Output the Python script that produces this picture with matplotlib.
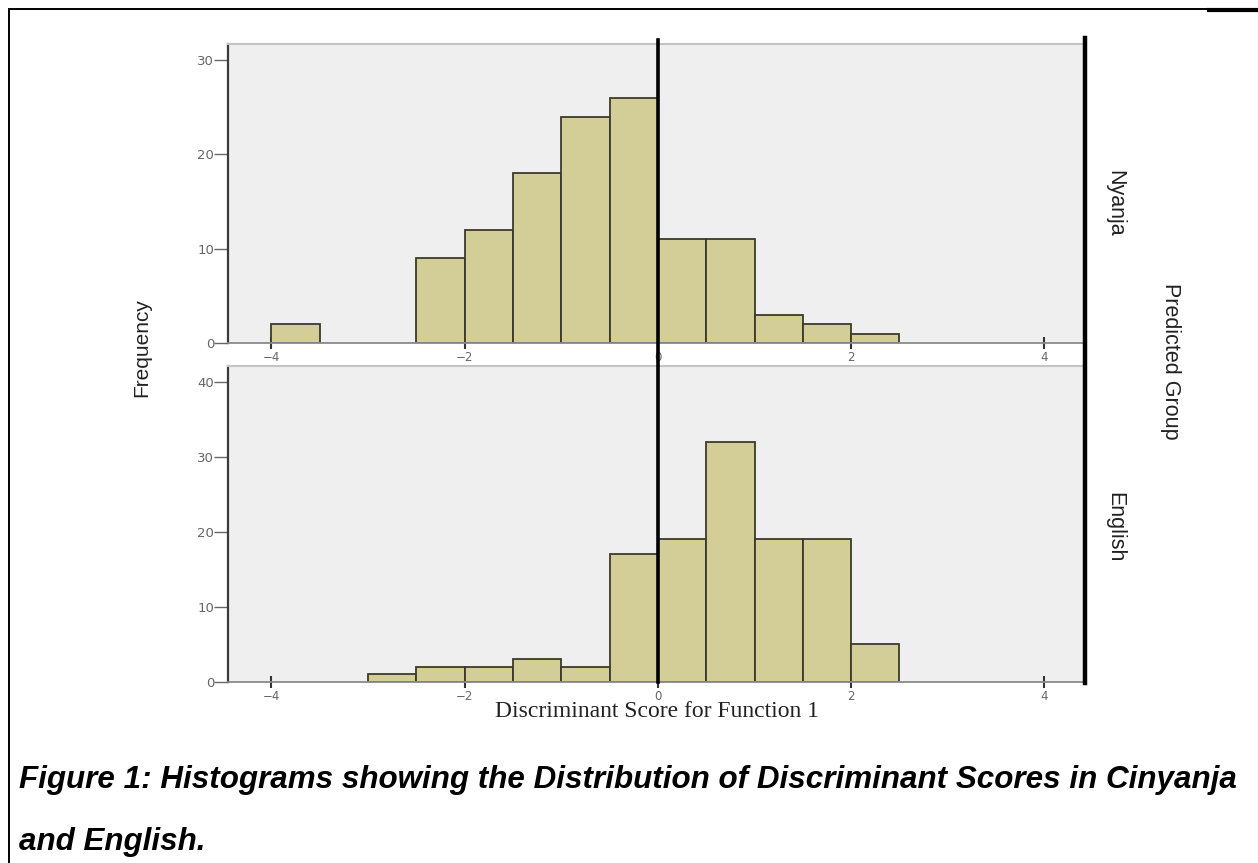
import matplotlib
matplotlib.use("Agg")
import matplotlib.pyplot as plt
from matplotlib.lines import Line2D

# histogram bins (left edges, width 0.5) and counts
nyanja_bins = [-4.0, -2.5, -2.0, -1.5, -1.0, -0.5, 0.0, 0.5, 1.0, 1.5, 2.0]
nyanja_counts = [2, 9, 12, 18, 24, 26, 11, 11, 3, 2, 1]

english_bins = [-3.0, -2.5, -2.0, -1.5, -1.0, -0.5, 0.0, 0.5, 1.0, 1.5, 2.0]
english_counts = [1, 2, 2, 3, 2, 17, 19, 32, 19, 19, 5]

bin_width = 0.5
x_ticks = [-4, -2, 0, 2, 4]
nyanja_yticks = [0, 10, 20, 30]
english_yticks = [0, 10, 20, 30, 40]

bar_color = "#d3ce97"
edge_color = "#3b3a2c"
panel_bg = "#efefef"

W, H = 1258, 863
fig = plt.figure(figsize=(W / 100, H / 100), dpi=100)
fig.patch.set_facecolor("white")


def fx(px):
    return px / W


def fy(py):
    return 1 - py / H


left, right = 228, 1085
ax1 = fig.add_axes([fx(left), fy(343), fx(right - left), fy(44) - fy(343)])
ax2 = fig.add_axes([fx(left), fy(682), fx(right - left), fy(366) - fy(682)])


def style(ax, bins, counts, yticks, ytop):
    ax.set_facecolor(panel_bg)
    ax.bar(bins, counts, width=bin_width, align="edge", color=bar_color,
           edgecolor=edge_color, linewidth=1.3, zorder=2)
    ax.set_xlim(-4.45, 4.42)
    ax.set_ylim(0, ytop)
    ax.set_xticks(x_ticks)
    ax.set_yticks(yticks)
    ax.tick_params(axis="x", direction="inout", length=9, width=1.5,
                   colors="#333333", labelsize=8.5, labelcolor="#666666", pad=1)
    ax.tick_params(axis="y", direction="out", length=10, width=1,
                   colors="#666666", labelsize=9.5, labelcolor="#666666", pad=0)
    ax.spines["left"].set_color("#3a3a3a")
    ax.spines["left"].set_linewidth(1.6)
    ax.spines["bottom"].set_color("#8a8a8a")
    ax.spines["bottom"].set_linewidth(1.3)
    ax.spines["top"].set_color("#c4c4c4")
    ax.spines["top"].set_linewidth(1.5)
    ax.spines["right"].set_visible(False)


style(ax1, nyanja_bins, nyanja_counts, nyanja_yticks, 31.7)
style(ax2, english_bins, english_counts, english_yticks, 42.1)

# x = 0 reference line across both panels, and the heavy right edge
x0 = left + (0 - (-4.45)) / (4.42 + 4.45) * (right - left)
fig.add_artist(Line2D([fx(x0), fx(x0)], [fy(40), fy(682)], color="black", lw=2.6))
fig.add_artist(Line2D([fx(right), fx(right)], [fy(38), fy(683)], color="black", lw=3.2))

# labels
side_font = dict(family="Liberation Sans", color="#222222", ha="center", va="center")
fig.text(fx(142), fy(348), "Frequency", rotation=90, fontsize=15, **side_font)
fig.text(fx(1115), fy(203), "Nyanja", rotation=-90, fontsize=15.5, **side_font)
fig.text(fx(1115), fy(527), "English", rotation=-90, fontsize=15.5, **side_font)
fig.text(fx(1170), fy(361), "Predicted Group", rotation=-90, fontsize=15.5, **side_font)
fig.text(fx(657), fy(711), "Discriminant Score for Function 1", ha="center", va="center",
         fontsize=17, family="Liberation Serif", color="#222222")

# caption
cap_font = dict(fontsize=22.6, fontweight="bold", fontstyle="italic",
                family="Liberation Sans", color="black")
fig.text(fx(19), fy(788), "Figure 1: Histograms showing the Distribution of Discriminant Scores in Cinyanja",
         ha="left", va="baseline", **cap_font)
fig.text(fx(19), fy(850), "and English.", ha="left", va="baseline", **cap_font)

# page frame
fig.add_artist(Line2D([fx(9), fx(9)], [fy(9), 0], color="black", lw=1.4))
fig.add_artist(Line2D([fx(9), 1], [fy(9), fy(9)], color="black", lw=1.4))
fig.add_artist(Line2D([fx(1209), 1], [fy(10), fy(10)], color="black", lw=3))

plt.savefig("out.png", dpi=100)
